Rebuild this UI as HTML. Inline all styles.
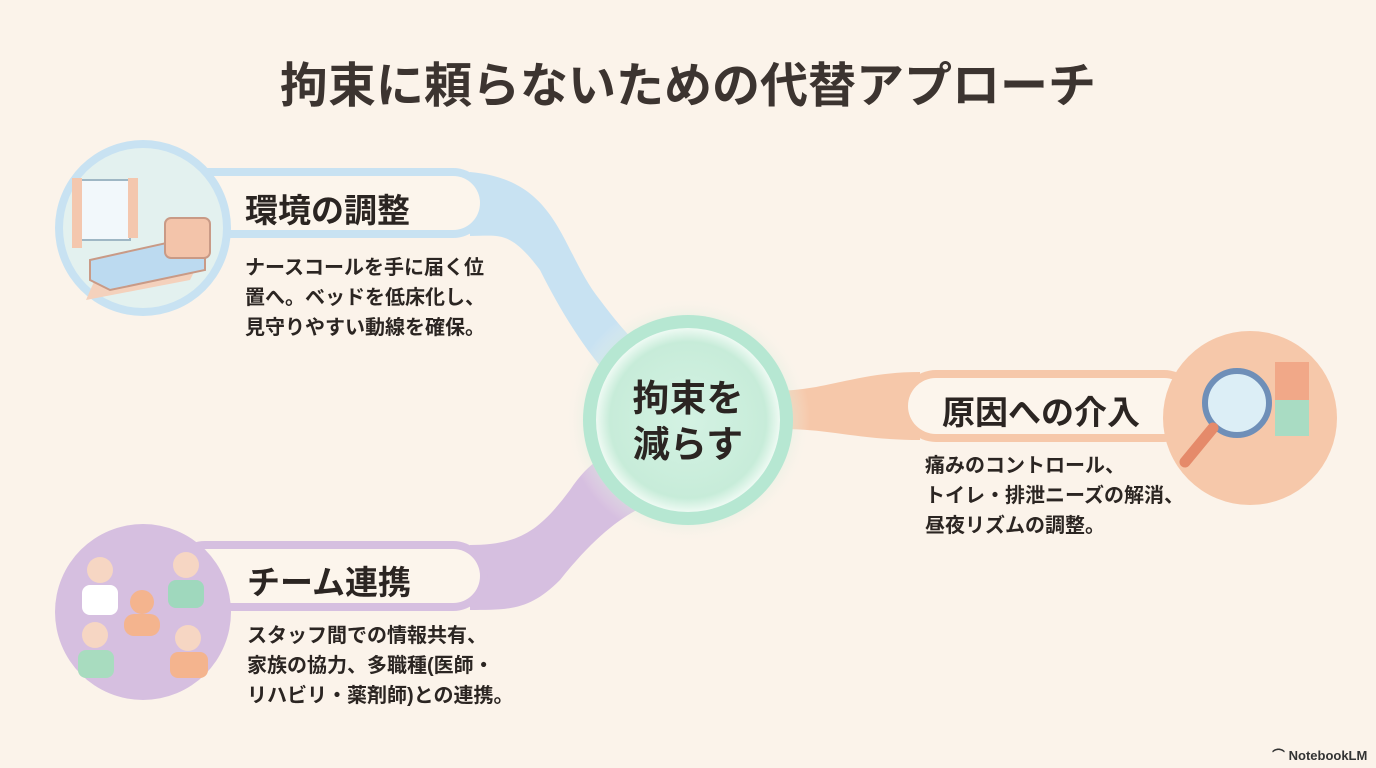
<!DOCTYPE html>
<html><head><meta charset="utf-8"><style>
body{margin:0;width:1376px;height:768px;overflow:hidden;background:#fbf3ea;font-family:"Liberation Sans","Noto Sans CJK JP",sans-serif;color:#2b2522;position:relative}
.t{position:absolute;font-weight:bold;white-space:nowrap}
</style></head><body>
<svg width="1376" height="768" style="position:absolute;left:0;top:0">
<defs>
<radialGradient id="glow" cx="50%" cy="50%" r="50%"><stop offset="70%" stop-color="#bfe9d6" stop-opacity=".8"/><stop offset="100%" stop-color="#fbf3ea" stop-opacity="0"/></radialGradient>
<radialGradient id="inner" cx="50%" cy="50%" r="50%"><stop offset="0%" stop-color="#d4f2e3"/><stop offset="85%" stop-color="#c7ecd9"/><stop offset="100%" stop-color="#eefaf3"/></radialGradient>
</defs>
<path d="M470 172 C560 180 560 250 600 300 C630 340 650 360 690 380 L660 420 C610 390 570 330 540 270 C510 230 500 236 470 236 Z" fill="#c8e2f2"/>
<path d="M470 545 C520 545 540 530 570 490 C590 460 610 450 640 440 L660 500 C630 510 600 530 560 580 C530 610 510 610 470 610 Z" fill="#d6bfe0"/>
<path d="M760 390 C820 395 850 372 920 372 L920 440 C850 440 820 425 760 430 Z" fill="#f6c8aa"/>
<rect x="170" y="168" width="318" height="70" rx="35" fill="#c8e2f2"/>
<rect x="180" y="176" width="300" height="54" rx="27" fill="#fcf5ec"/>
<rect x="170" y="541" width="318" height="70" rx="35" fill="#d6bfe0"/>
<rect x="180" y="549" width="300" height="54" rx="27" fill="#fcf5ec"/>
<rect x="900" y="370" width="300" height="72" rx="36" fill="#f6c8aa"/>
<rect x="908" y="378" width="284" height="56" rx="28" fill="#fcf5ec"/>
<circle cx="143" cy="228" r="88" fill="#c8e2f2"/>
<circle cx="143" cy="228" r="80" fill="#e3f1ef"/>
<rect x="80" y="180" width="50" height="60" fill="#f2f8fb" stroke="#9fb7c4" stroke-width="2"/>
<rect x="72" y="178" width="10" height="70" fill="#f4c7ae"/><rect x="128" y="178" width="10" height="60" fill="#f4c7ae"/>
<path d="M86 300 L190 280 L200 260 L100 268 Z" fill="#f4d1bc"/>
<path d="M90 260 L180 240 L205 250 L205 270 L110 290 L90 280 Z" fill="#bcdaf0" stroke="#c99a86" stroke-width="2"/>
<rect x="165" y="218" width="45" height="40" rx="6" fill="#f3c4aa" stroke="#c99a86" stroke-width="2"/>
<circle cx="143" cy="612" r="88" fill="#d6bfe0"/>
<circle cx="100" cy="570" r="13" fill="#f6d6c3"/><rect x="82" y="585" width="36" height="30" rx="8" fill="#fff"/>
<circle cx="186" cy="565" r="13" fill="#f6d6c3"/><rect x="168" y="580" width="36" height="28" rx="8" fill="#9fd8bd"/>
<circle cx="142" cy="602" r="12" fill="#f4b48e"/><rect x="124" y="614" width="36" height="22" rx="10" fill="#f4b48e"/>
<circle cx="95" cy="635" r="13" fill="#f6d6c3"/><rect x="78" y="650" width="36" height="28" rx="8" fill="#a8dcbf"/>
<circle cx="188" cy="638" r="13" fill="#f6d6c3"/><rect x="170" y="652" width="38" height="26" rx="8" fill="#f4b48e"/>
<circle cx="1250" cy="418" r="87" fill="#f6c8aa"/>
<circle cx="1237" cy="403" r="32" fill="#dceef6" stroke="#6f8fb8" stroke-width="6"/>
<line x1="1213" y1="428" x2="1185" y2="462" stroke="#e58a6a" stroke-width="11" stroke-linecap="round"/>
<rect x="1275" y="362" width="34" height="38" fill="#f1a888"/><rect x="1275" y="400" width="34" height="36" fill="#a9dcc3"/>
<circle cx="688" cy="420" r="122" fill="url(#glow)"/>
<circle cx="688" cy="420" r="105" fill="#b6e7d2"/>
<circle cx="688" cy="420" r="92" fill="url(#inner)"/>
</svg>
<div class="t" style="left:0;width:1376px;text-align:center;top:46px;font-size:48px;color:#3c3430">拘束に頼らないための代替アプローチ</div>
<div class="t" style="left:245px;top:184px;font-size:33px">環境の調整</div>
<div class="t" style="left:245px;top:253px;font-size:20px;line-height:30px">ナースコールを手に届く位<br>置へ。ベッドを低床化し、<br>見守りやすい動線を確保。</div>
<div class="t" style="left:247px;top:556px;font-size:33px">チーム連携</div>
<div class="t" style="left:247px;top:621px;font-size:20px;line-height:30px">スタッフ間での情報共有、<br>家族の協力、多職種(医師・<br>リハビリ・薬剤師)との連携。</div>
<div class="t" style="left:942px;top:386px;font-size:33px">原因への介入</div>
<div class="t" style="left:925px;top:451px;font-size:20px;line-height:30px">痛みのコントロール、<br>トイレ・排泄ニーズの解消、<br>昼夜リズムの調整。</div>
<div class="t" style="left:588px;width:200px;text-align:center;top:376px;font-size:37px;line-height:46px">拘束を<br>減らす</div>
<div class="t" style="left:1272px;top:745px;font-size:13px;color:#333">⌒ NotebookLM</div>
</body></html>
